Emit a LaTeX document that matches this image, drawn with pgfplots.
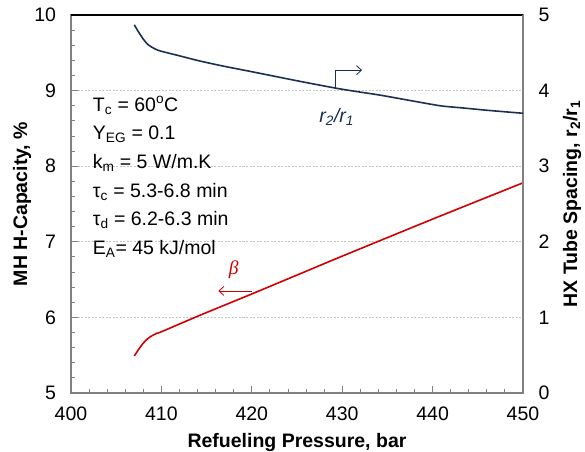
\documentclass[border=0pt]{standalone}
\usepackage{fontspec}
\setmainfont{Liberation Sans}
\newfontfamily\serifit{Liberation Serif}
\usepackage{pgfplots}
\pgfplotsset{compat=1.18}
\usetikzlibrary{arrows.meta}
\definecolor{navy}{HTML}{1B2F50}
\definecolor{myred}{HTML}{D00000}
\definecolor{framegray}{HTML}{808080}
\definecolor{gridgray}{HTML}{C4C4C4}
\newcommand\fs{\fontsize{19.5bp}{23bp}\selectfont}

\pgfplotstableread{
x y
407.0 5.49
407.5 5.58
408.0 5.66
408.5 5.72
409.0 5.76
409.5 5.79
410.0 5.81
414.3 6.03
420 6.31
425 6.56
430 6.81
440 7.30
450 7.78
}\betadata

\pgfplotstableread{
x y
407.0 4.87
407.5 4.77
408.0 4.68
408.5 4.61
409.0 4.57
409.5 4.54
410.0 4.52
412.0 4.46
414.3 4.39
417 4.32
420 4.25
425 4.13
429.4 4.03
432 3.98
434.2 3.94
437 3.88
440.8 3.80
443.4 3.77
446 3.74
450 3.70
}\rdata

\begin{document}
\begin{tikzpicture}
\path[use as bounding box] (-71bp,-59bp) rectangle (514bp,393bp);
\begin{axis}[
  at={(0,0)}, anchor=south west,
  scale only axis, width=452bp, height=378bp,
  clip=false,
  xmin=400, xmax=450, ymin=5, ymax=10,
  xtick={400,410,...,450}, ytick={5,6,...,10},
  minor x tick num=4, minor y tick num=4,
  xtick pos=bottom, ytick pos=left,
  tick align=inside,
  major tick length=7bp, minor tick length=4.5bp,
  tick style={draw=framegray, line width=0.9bp},
  axis line style={draw=framegray, line width=1.5bp},
  ymajorgrids,
  major grid style={draw=gridgray, line width=1bp, dash pattern=on 2bp off 1.5bp},
  /pgf/number format/assume math mode=true,
  tick label style={font=\fs},
  yticklabel style={xshift=-11.5bp},
  xticklabel style={yshift=-10.5bp},
  xlabel={Refueling Pressure, bar},
  ylabel={MH H-Capacity, \%},
  xlabel style={font=\fs\bfseries, at={(axis description cs:0.5,-0.1429)}, anchor=base},
  ylabel style={font=\fs\bfseries, at={(axis description cs:-0.0973,0.5)}, anchor=base},
]
\addplot[myred, line width=1.6bp, smooth, tension=0.4] table[x=x,y=y] {\betadata};
\draw[black, line width=2.2bp] (rel axis cs:0,1) -- (rel axis cs:1,1);
\node[anchor=base west, inner sep=0pt, font=\fs] at (axis cs:402.4,8.730) {T\textsubscript{c} = 60\textsuperscript{o}C};
\node[anchor=base west, inner sep=0pt, font=\fs] at (axis cs:402.4,8.351) {Y\textsubscript{EG} = 0.1};
\node[anchor=base west, inner sep=0pt, font=\fs] at (axis cs:402.4,7.971) {k\textsubscript{m} = 5 W/m.K};
\node[anchor=base west, inner sep=0pt, font=\fs] at (axis cs:402.4,7.591) {τ\textsubscript{c} = 5.3-6.8 min};
\node[anchor=base west, inner sep=0pt, font=\fs] at (axis cs:402.4,7.212) {τ\textsubscript{d} = 6.2-6.3 min};
\node[anchor=base west, inner sep=0pt, font=\fs] at (axis cs:402.4,6.832) {E\textsubscript{A}= 45 kJ/mol};
\node[inner sep=0pt, font=\fs\serifit\itshape, text=myred] at (axis cs:418.0,6.63) {β};
\draw[myred, line width=0.8bp, -{Straight Barb[length=5bp,width=9bp]}] (axis cs:420.0,6.35) -- (axis cs:416.3,6.35);
\end{axis}
\begin{axis}[
  at={(0,0)}, anchor=south west,
  scale only axis, width=452bp, height=378bp,
  clip=false,
  xmin=400, xmax=450, ymin=0, ymax=5,
  axis x line=none, axis y line*=right,
  ytick={0,1,...,5},
  ytick style={draw=none},
  axis line style={draw=framegray, line width=1.5bp},
  /pgf/number format/assume math mode=true,
  tick label style={font=\fs},
  yticklabel style={xshift=12bp},
  ylabel={HX Tube Spacing, r\textsubscript{2}/r\textsubscript{1}},
  ylabel style={font=\fs\bfseries, at={(axis description cs:1.1195,0.5)}, anchor=base},
]
\addplot[navy, line width=1.6bp, smooth, tension=0.4] table[x=x,y=y] {\rdata};
\node[inner sep=0pt, font=\fs\itshape, text=navy] at (axis cs:429.4,3.65) {r\textsubscript{2}/r\textsubscript{1}};
\draw[navy, line width=0.8bp, -{Straight Barb[length=5bp,width=9bp]}] (axis cs:429.3,4.03) -- (axis cs:429.3,4.27) -- (axis cs:432.2,4.27);
\end{axis}
\end{tikzpicture}
\end{document}
